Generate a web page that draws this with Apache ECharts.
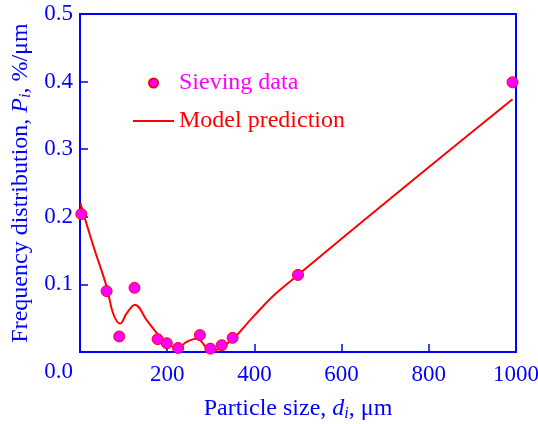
<!DOCTYPE html>
<html>
<head>
<meta charset="utf-8">
<script src="https://cdn.jsdelivr.net/npm/echarts@6/dist/echarts.min.js"></script>
<style>
  html, body { margin: 0; padding: 0; background: #fff; }
  #chart { width: 538px; height: 424px; }
</style>
</head>
<body>
<div id="chart"></div>
<script>
const sieveSize = [3, 61, 90, 125, 178, 199, 225, 275, 299, 325, 350, 500, 992]
const sieveFreq = [0.204, 0.090, 0.023, 0.095, 0.019, 0.013, 0.006, 0.025, 0.005, 0.010, 0.021, 0.114, 0.399]

const modelSize = [1, 31, 61, 76, 92, 107, 126, 153, 183, 206, 222, 245, 268, 279, 294, 302, 321, 352, 397, 459, 992]
const modelFreq = [0.220, 0.156, 0.097, 0.057, 0.042, 0.057, 0.070, 0.047, 0.023, 0.010, 0.006, 0.015, 0.020, 0.015, 0.003, 0.001, 0.006, 0.020, 0.052, 0.092, 0.374]

const blue = '#0000ff'
const font = 'Liberation Serif'

const chart = echarts.init(document.getElementById('chart'))

chart.setOption({
  animation: false,
  grid: { left: 80, top: 14, right: 22, bottom: 72, outerBoundsMode: 'none' },
  legend: {
    orient: 'vertical',
    left: 127,
    top: 66,
    itemWidth: 41,
    itemHeight: 9,
    itemGap: 14,
    textStyle: { fontFamily: font, fontSize: 24 },
    data: [
      { name: 'Sieving data', textStyle: { color: '#ff00ff' } },
      { name: 'Model prediction', textStyle: { color: '#ff0000' }, itemStyle: { opacity: 0 } }
    ]
  },
  xAxis: {
    type: 'value',
    min: 0,
    max: 1000,
    interval: 200,
    name: '{n|Particle size, }{i|d}{s|i}{n|, μm}',
    nameLocation: 'middle',
    nameGap: 44,
    nameTextStyle: {
      rich: {
        n: { fontFamily: font, fontSize: 24, color: blue },
        i: { fontFamily: font, fontSize: 24, color: blue, fontStyle: 'italic' },
        s: { fontFamily: font, fontSize: 16, color: blue, fontStyle: 'italic', padding: [10, 0, 0, 0] }
      }
    },
    axisLine: { onZero: false, lineStyle: { color: blue, width: 2 } },
    axisTick: { inside: true, length: 8, lineStyle: { color: blue, width: 1.5 } },
    axisLabel: {
      margin: 11,
      color: blue,
      fontFamily: font,
      fontSize: 23,
      formatter: v => (v === 0 ? '' : String(v))
    },
    splitLine: { show: false }
  },
  yAxis: {
    type: 'value',
    min: 0,
    max: 0.5,
    interval: 0.1,
    name: '{n|Frequency distribution, }{i|P}{s|i}{n|, %/μm}',
    nameLocation: 'middle',
    nameGap: 46,
    nameTextStyle: {
      rich: {
        n: { fontFamily: font, fontSize: 24, color: blue },
        i: { fontFamily: font, fontSize: 24, color: blue, fontStyle: 'italic' },
        s: { fontFamily: font, fontSize: 16, color: blue, fontStyle: 'italic', padding: [10, 0, 0, 0] }
      }
    },
    axisLine: { lineStyle: { color: blue, width: 2 } },
    axisTick: { inside: true, length: 8, lineStyle: { color: blue, width: 1.5 } },
    axisLabel: {
      margin: 7,
      color: blue,
      fontFamily: font,
      fontSize: 23,
      formatter: v => (v === 0 ? '{z|0.0}' : v.toFixed(1)),
      rich: { z: { fontFamily: font, fontSize: 23, color: blue, padding: [40, 0, 0, 0] } }
    },
    splitLine: { show: false }
  },
  graphic: [{
    type: 'rect',
    shape: { x: 80, y: 14, width: 436, height: 338 },
    style: { fill: 'none', stroke: blue, lineWidth: 2 },
    silent: true,
    z: 1
  }],
  series: [
    {
      name: 'Model prediction',
      type: 'line',
      data: modelSize.map((x, i) => [x, modelFreq[i]]),
      smooth: 0.4,
      showSymbol: false,
      symbol: 'none',
      lineStyle: { color: '#ff0000', width: 2 },
      itemStyle: { color: '#ff0000' },
      z: 3
    },
    {
      name: 'Sieving data',
      type: 'scatter',
      data: sieveSize.map((x, i) => [x, sieveFreq[i]]),
      symbolSize: 11,
      itemStyle: { color: '#ff00ff', borderColor: '#ff0000', borderWidth: 1, opacity: 1 },
      z: 4
    }
  ]
})
</script>
</body>
</html>
